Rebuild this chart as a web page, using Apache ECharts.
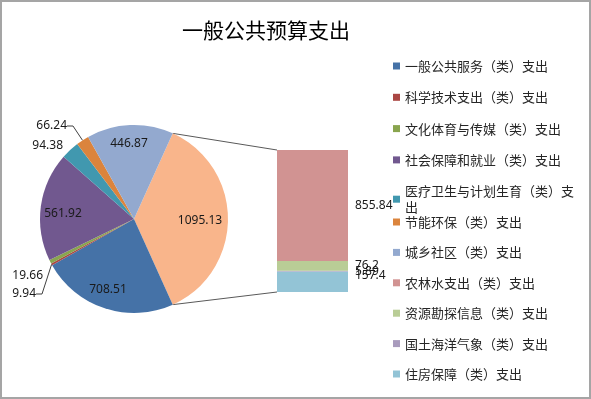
<!DOCTYPE html>
<html>
<head>
<meta charset="utf-8">
<title>一般公共预算支出</title>
<script src="https://cdn.jsdelivr.net/npm/echarts@6/dist/echarts.min.js"></script>
<style>
  html, body { margin: 0; padding: 0; background: #fff; }
  #wrap { position: relative; width: 591px; height: 399px; }
  #main { width: 591px; height: 399px; }
  #frame {
    position: absolute; left: 0; top: 0; width: 591px; height: 399px;
    box-sizing: border-box; border: 2px solid #a5a5a5; pointer-events: none;
  }
</style>
</head>
<body>
<div id="wrap"><div id="main"></div><div id="frame"></div></div>
<script>
// pie slices (legend order)
const pieNames = [
  "一般公共服务（类）支出",
  "科学技术支出（类）支出",
  "文化体育与传媒（类）支出",
  "社会保障和就业（类）支出",
  "医疗卫生与计划生育（类）支出",
  "节能环保（类）支出",
  "城乡社区（类）支出"
];
const pieValues = [708.51, 9.94, 19.66, 561.92, 94.38, 66.24, 446.87];
const pieColors = ["#4572A7", "#AA4643", "#89A54E", "#71588F", "#4198AF", "#DB843D", "#93A9CF"];

// the combined slice that is broken out into the bar
const otherName = "其他";
const otherValue = 1095.13;
const otherColor = "#F9B58B";

// stacked bar (top to bottom)
const barNames = [
  "农林水支出（类）支出",
  "资源勘探信息（类）支出",
  "国土海洋气象（类）支出",
  "住房保障（类）支出"
];
const barValues = [855.84, 76.2, 5.89, 157.4];
const barColors = ["#D19392", "#B9CD96", "#A99BBD", "#93C4D6"];

const center = [134, 219];
const radius = 94;
const barBox = { left: 277, top: 150, width: 71, height: 142 };

const total = otherValue + pieValues.reduce((a, b) => a + b, 0);
const halfAngle = otherValue / total * 180;
const barTotal = barValues.reduce((a, b) => a + b, 0);

// label spots like excel put them (index 0 = other slice)
const labelSpots = [
  [200, 221, "center"],
  [108, 290, "center"],
  [36, 294, "right"],
  [43, 276, "right"],
  [63, 214, "center"],
  [63, 146, "right"],
  [67, 126, "right"],
  [129, 144, "center"]
];
const leaderLine = [false, false, true, false, false, false, true, false];

const numFont = "Noto Sans";
const cjkFont = "Noto Sans CJK SC";

let pieData = [{
  name: otherName,
  value: otherValue,
  itemStyle: { color: otherColor },
  label: { position: "inside" },
  labelLine: { show: false }
}];
pieNames.forEach((n, i) => {
  pieData.push({
    name: n,
    value: pieValues[i],
    itemStyle: { color: pieColors[i] },
    label: { position: leaderLine[i + 1] ? "outside" : "inside" },
    labelLine: { show: leaderLine[i + 1] }
  });
});

const barSeries = [3, 2, 1, 0].map((i) => ({
  type: "bar",
  name: barNames[i],
  stack: "other",
  data: [barValues[i]],
  barWidth: "100%",
  itemStyle: { color: barColors[i] },
  label: {
    show: true,
    position: "right",
    distance: 7,
    color: "#1a1a1a",
    fontSize: 12,
    fontFamily: numFont,
    offset: i === 3 ? [0, -6] : [0, 0]
  },
  silent: true
}));

const a = halfAngle * Math.PI / 180;
const edgeX = center[0] + radius * Math.cos(a);
const edgeDy = radius * Math.sin(a);

const legendText = {
  fontSize: 13,
  lineHeight: 16,
  color: "#262626",
  fontFamily: cjkFont,
  width: 172,
  overflow: "breakAll"
};

const option = {
  animation: false,
  title: {
    text: "一般公共预算支出",
    left: 177,
    top: 15,
    textStyle: { fontSize: 21, fontWeight: "normal", color: "#000", fontFamily: cjkFont }
  },
  legend: [
    {
      data: pieNames.slice(0, 5),
      orient: "vertical",
      left: 393,
      top: 58,
      padding: 0,
      icon: "rect",
      itemWidth: 7,
      itemHeight: 7,
      itemGap: 15.3,
      selectedMode: false,
      textStyle: legendText
    },
    {
      data: pieNames.slice(5).concat(barNames),
      orient: "vertical",
      left: 393,
      top: 214,
      padding: 0,
      icon: "rect",
      itemWidth: 7,
      itemHeight: 7,
      itemGap: 14.4,
      selectedMode: false,
      textStyle: legendText
    }
  ],
  grid: { left: barBox.left, top: barBox.top, width: barBox.width, height: barBox.height },
  xAxis: { type: "category", data: ["其他"], show: false },
  yAxis: { type: "value", min: 0, max: barTotal, show: false },
  graphic: [
    {
      type: "line",
      shape: { x1: edgeX, y1: center[1] - edgeDy, x2: barBox.left, y2: barBox.top },
      style: { stroke: "#595959", lineWidth: 1 },
      silent: true
    },
    {
      type: "line",
      shape: { x1: edgeX, y1: center[1] + edgeDy, x2: barBox.left, y2: barBox.top + barBox.height },
      style: { stroke: "#595959", lineWidth: 1 },
      silent: true
    }
  ],
  series: [
    {
      type: "pie",
      center: center,
      radius: radius,
      startAngle: halfAngle,
      clockwise: true,
      data: pieData,
      silent: true,
      label: {
        show: true,
        formatter: "{c}",
        color: "#1a1a1a",
        fontSize: 12,
        fontFamily: numFont
      },
      labelLine: {
        length: 6,
        length2: 6,
        lineStyle: { color: "#404040", width: 1 }
      },
      labelLayout: function (params) {
        const s = labelSpots[params.dataIndex];
        return { x: s[0], y: s[1], align: s[2], verticalAlign: "middle" };
      },
      itemStyle: { borderWidth: 0 }
    }
  ].concat(barSeries)
};

const myChart = echarts.init(document.getElementById("main"));
myChart.setOption(option);
</script>
</body>
</html>
